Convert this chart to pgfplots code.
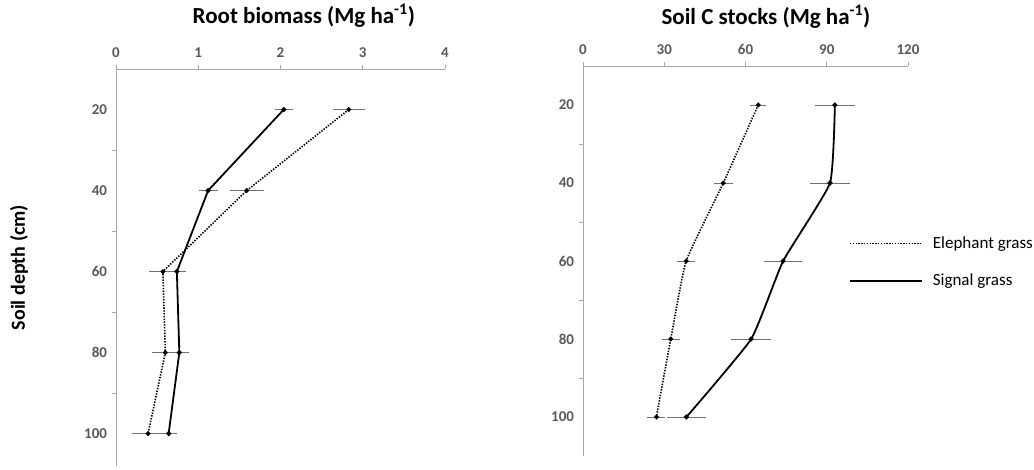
\documentclass[border=0pt]{standalone}
\usepackage{fontspec}
\setmainfont{Carlito}
\usepackage{pgfplots}
\pgfplotsset{compat=1.18}
\definecolor{axgray}{HTML}{A6A6A6}
\definecolor{lblgray}{HTML}{595959}
\definecolor{errgray}{HTML}{707070}
\pgfplotsset{
  myaxis/.style={
    scale only axis,
    y dir=reverse,
    axis x line=top,
    axis y line=left,
    axis line style={axgray, line width=0.8pt, -},
    tick align=outside,
    major tick length=4pt,
    minor tick length=4pt,
    every tick/.style={axgray, line width=0.8pt},
    major y tick style={draw=none},
    ytick={20,40,60,80,100},
    minor ytick={30,50,70,90},
    ymin=10,
    tick label style={font=\fontsize{15}{15}\selectfont\bfseries, text=lblgray},
    /pgf/number format/assume math mode=true,
    yticklabel style={xshift=-1.5pt},
    xticklabel style={yshift=4pt},
    title style={font=\fontsize{23}{23}\selectfont\bfseries, anchor=center},
    clip=false,
  },
  solidline/.style={black, line width=1.8pt, mark=*, mark size=1.5pt,
    error bars/.cd, x dir=both, x explicit,
    error bar style={errgray, line width=0.8pt, solid},
    error mark options={errgray, line width=0.8pt, mark size=3pt, solid}},
  dotline/.style={black, dash pattern=on 1.4pt off 1.4pt, line width=1.6pt, mark=*, mark size=1.5pt, mark options={solid},
    error bars/.cd, x dir=both, x explicit,
    error bar style={errgray, line width=0.8pt, solid},
    error mark options={errgray, line width=0.8pt, mark size=3pt, solid}},
}
\begin{document}
\begin{tikzpicture}
\path[use as bounding box] (0,0) rectangle (1034pt,470pt);
% Left panel
\begin{axis}[myaxis,
  at={(116pt,4pt)}, anchor=south west,
  width=329pt, height=397pt,
  xmin=0, xmax=4, xtick={0,1,2,3,4},
  ymax=108,
  title={Root biomass (Mg ha\textsuperscript{-1})},
  title style={at={(axis description cs:0.571,1.12)}},
  ylabel={Soil depth (cm)},
  ylabel style={at={(axis description cs:-0.295,0.5)}, font=\fontsize{20}{20}\selectfont\bfseries, anchor=center, rotate=0},
]
\addplot[dotline] coordinates {
  (2.83,20) +- (0.16,0)
  (1.59,40) +- (0.17,0)
  (0.57,60) +- (0.13,0)
  (0.60,80) +- (0.13,0)
  (0.39,100) +- (0.16,0)
};
\addplot[solidline] coordinates {
  (2.04,20) +- (0.07,0)
  (1.12,40) +- (0.08,0)
  (0.74,60) +- (0.07,0)
  (0.77,80) +- (0.08,0)
  (0.64,100) +- (0.07,0)
};
\end{axis}
% Right panel
\begin{axis}[myaxis,
  at={(583pt,14pt)}, anchor=south west,
  width=325pt, height=390pt,
  xmin=0, xmax=120, xtick={0,30,60,90,120},
  ymax=110,
  title={Soil C stocks (Mg ha\textsuperscript{-1})},
  title style={at={(axis description cs:0.563,1.11)}},
  legend style={at={(axis description cs:0.818,0.497)}, anchor=west, draw=none, fill=none,
    inner sep=0pt, row sep=20pt, font=\fontsize{17}{17}\selectfont, text=black},
  legend cell align=left,
  legend image code/.code={\draw[#1] (0pt,0pt) -- (72pt,0pt);},
]
\addplot[smooth, tension=0.25, dotline] coordinates {
  (64.7,20) +- (1.9,0)
  (51.8,40) +- (2.3,0)
  (38.1,60) +- (2.2,0)
  (32.4,80) +- (2.3,0)
  (27.1,100) +- (2.2,0)
};
\addlegendentry{\hspace{8pt}Elephant grass}
\addplot[smooth, tension=0.25, solidline] coordinates {
  (93.0,20) +- (6.2,0)
  (91.2,40) +- (6.2,0)
  (73.9,60) +- (6.0,0)
  (62.1,80) +- (6.2,0)
  (38.2,100) +- (6.1,0)
};
\addlegendentry{\hspace{8pt}Signal grass}
\end{axis}
\end{tikzpicture}
\end{document}
